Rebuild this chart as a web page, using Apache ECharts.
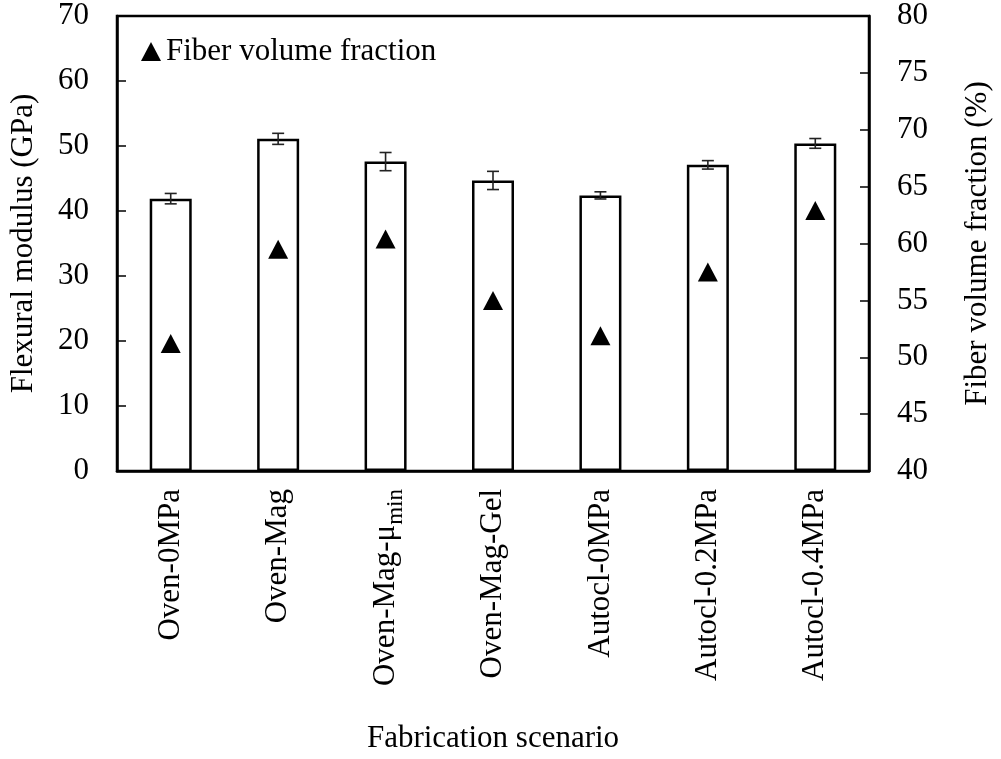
<!DOCTYPE html>
<html>
<head>
<meta charset="utf-8">
<script src="https://cdn.jsdelivr.net/npm/echarts@6/dist/echarts.min.js"></script>
<style>
  html, body { margin: 0; padding: 0; background: #fff; }
  #chart { width: 1001px; height: 759px; }
</style>
</head>
<body>
<div id="chart"></div>
<script>
// Fabrication scenarios (an underscore marks a subscript part)
const categories = ['Oven-0MPa', 'Oven-Mag', 'Oven-Mag-μ_min', 'Oven-Mag-Gel', 'Autocl-0MPa', 'Autocl-0.2MPa', 'Autocl-0.4MPa'];
// Flexural modulus (GPa) and its standard deviation
const modulus = [41.9, 51.1, 47.6, 44.7, 42.4, 47.1, 50.4];
const modulusErr = [0.8, 0.85, 1.4, 1.4, 0.55, 0.65, 0.75];
// Fiber volume fraction (%)
const fiberFraction = [51.2, 59.5, 60.4, 55.0, 51.9, 57.5, 62.9];

const FONT = "'Liberation Serif', 'Times New Roman', serif";
const FS = 31;

const chart = echarts.init(document.getElementById('chart'));

chart.setOption({
  backgroundColor: '#fff',
  animation: false,
  textStyle: { fontFamily: FONT, color: '#000' },
  grid: {
    left: 115, right: 124, top: 16, bottom: 287,
    show: true, borderColor: '#000', borderWidth: 2.5, backgroundColor: 'transparent'
  },
  legend: {
    data: [{ name: 'Fiber volume fraction', icon: 'triangle' }],
    left: 136, top: 31,
    itemWidth: 20, itemHeight: 19,
    textStyle: { fontFamily: FONT, fontSize: FS, color: '#000' },
    itemStyle: { color: '#000', opacity: 1 }
  },
  xAxis: {
    type: 'category',
    data: categories,
    name: 'Fabrication scenario',
    nameLocation: 'middle',
    nameGap: 252,
    nameTextStyle: { fontFamily: FONT, fontSize: FS, color: '#000' },
    axisLine: { lineStyle: { color: '#000', width: 2.5 } },
    axisTick: { inside: true, length: 9, lineStyle: { color: '#000', width: 1.5 } },
    axisLabel: {
      rotate: 90,
      margin: 18,
      interval: 0,
      formatter: function (v) {
        const parts = v.split('_');
        return parts.length > 1 ? '{n|' + parts[0] + '}{s|' + parts[1] + '}' : '{n|' + v + '}';
      },
      rich: {
        n: { fontFamily: FONT, fontSize: FS, color: '#000' },
        s: { fontFamily: FONT, fontSize: 23, color: '#000', verticalAlign: 'bottom', padding: [0, 0, -6, 0] }
      }
    },
    splitLine: { show: false }
  },
  yAxis: [
    {
      type: 'value',
      min: 0, max: 70, interval: 10,
      name: 'Flexural modulus (GPa)',
      nameLocation: 'middle',
      nameRotate: 90,
      nameGap: 78,
      nameTextStyle: { fontFamily: FONT, fontSize: FS, color: '#000' },
      axisLine: { show: true, lineStyle: { color: '#000', width: 2.5 } },
      axisTick: { show: true, inside: true, length: 9, lineStyle: { color: '#000', width: 1.5 } },
      axisLabel: { margin: 28, fontFamily: FONT, fontSize: FS, color: '#000' },
      splitLine: { show: false }
    },
    {
      type: 'value',
      position: 'right',
      min: 40, max: 80, interval: 5,
      name: 'Fiber volume fraction (%)',
      nameLocation: 'middle',
      nameRotate: 90,
      nameGap: 93,
      nameTextStyle: { fontFamily: FONT, fontSize: FS, color: '#000' },
      axisLine: { show: true, lineStyle: { color: '#000', width: 2.5 } },
      axisTick: { show: true, inside: true, length: 9, lineStyle: { color: '#000', width: 1.5 } },
      axisLabel: { margin: 28, fontFamily: FONT, fontSize: FS, color: '#000' },
      splitLine: { show: false }
    }
  ],
  series: [
    {
      name: 'Flexural modulus',
      type: 'bar',
      yAxisIndex: 0,
      barWidth: 42,
      data: modulus,
      itemStyle: { color: '#fff', borderColor: '#000', borderWidth: 2.5 },
      z: 2
    },
    {
      name: 'Modulus error',
      type: 'custom',
      yAxisIndex: 0,
      z: 3,
      data: categories.map((c, i) => [i, modulus[i], modulusErr[i]]),
      renderItem: function (params, api) {
        const x = api.value(0), y = api.value(1), e = api.value(2);
        const top = api.coord([x, y + e]);
        const bot = api.coord([x, y - e]);
        const half = 6;
        const style = { stroke: '#222', lineWidth: 1.6 };
        return {
          type: 'group',
          children: [
            { type: 'line', shape: { x1: top[0], y1: top[1], x2: bot[0], y2: bot[1] }, style: style },
            { type: 'line', shape: { x1: top[0] - half, y1: top[1], x2: top[0] + half, y2: top[1] }, style: style },
            { type: 'line', shape: { x1: bot[0] - half, y1: bot[1], x2: bot[0] + half, y2: bot[1] }, style: style }
          ]
        };
      }
    },
    {
      name: 'Fiber volume fraction',
      type: 'scatter',
      yAxisIndex: 1,
      symbol: 'triangle',
      symbolSize: [20, 19],
      data: fiberFraction,
      itemStyle: { color: '#000', opacity: 1 },
      z: 4
    }
  ]
});
</script>
</body>
</html>
